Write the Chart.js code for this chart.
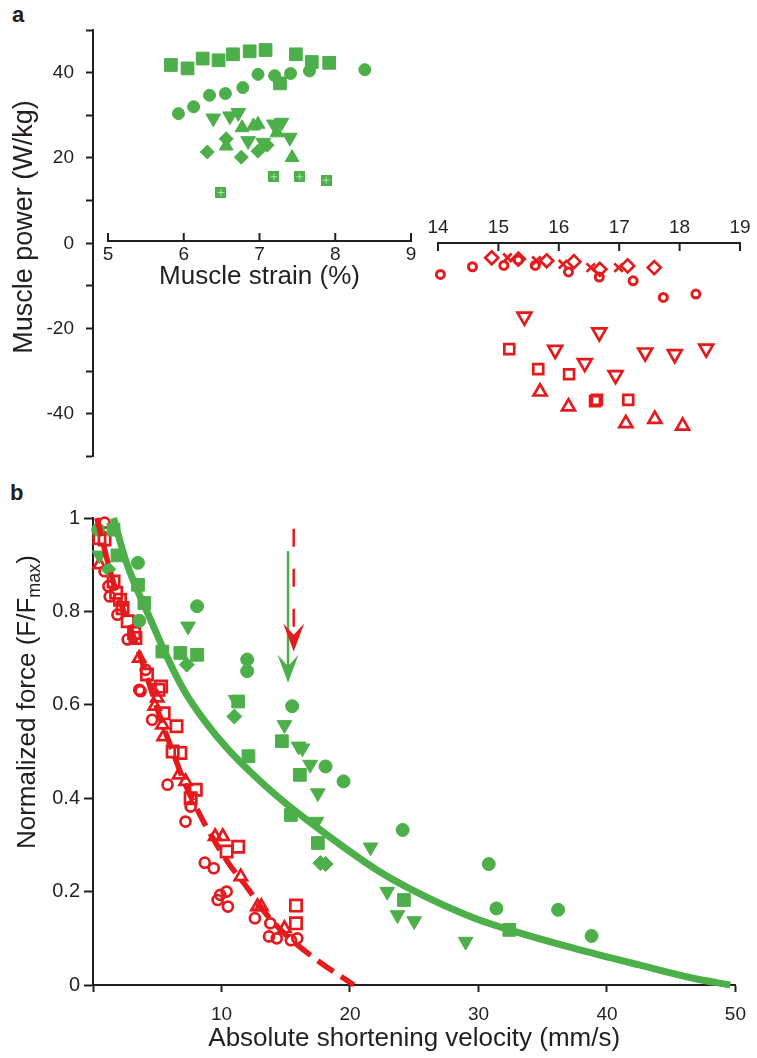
<!DOCTYPE html>
<html>
<head>
<meta charset="utf-8">
<title>Muscle power and force-velocity</title>
<script src="https://cdn.jsdelivr.net/npm/chart.js@4.4.1/dist/chart.umd.min.js"></script>
<style>
  html, body { margin: 0; padding: 0; background: #fff; }
  body { position: relative; width: 757px; height: 1058px; overflow: hidden; font-family: "Liberation Sans", Arial, sans-serif; }
  canvas { position: absolute; left: 0; }
  #powerChart { top: 0; }
  #forceChart { top: 480px; }
  .tag { position: absolute; font-weight: bold; font-size: 22px; color: #231f20; line-height: 1; }
</style>
</head>
<body>
<div class="tag" style="left:12px;top:4px">a</div>
<div class="tag" style="left:10px;top:482px">b</div>
<canvas id="powerChart" width="757" height="480"></canvas>
<canvas id="forceChart" width="757" height="578"></canvas>
<script>
const GREEN = '#4daf4a';
const RED = '#e41a1c';
const INK = '#231f20';
const FAMILY = '"Liberation Sans", Arial, sans-serif';

Chart.defaults.font.family = FAMILY;
Chart.defaults.color = INK;
Chart.defaults.animation = false;
Chart.defaults.events = [];
Chart.defaults.plugins.legend.display = false;
Chart.defaults.plugins.tooltip.enabled = false;

// ---------- panel a: power vs strain ----------
const strainTicksLow = [5, 6, 7, 8, 9];
const strainTicksHigh = [14, 15, 16, 17, 18, 19];

// green (positive power), strain 5-9 %
const gSquareStrain = [5.83, 6.05, 6.25, 6.46, 6.65, 6.87, 7.08, 7.48, 7.69, 7.92, 7.27];
const gSquarePower = [41.8, 41.0, 43.3, 42.9, 44.3, 45.0, 45.3, 44.3, 42.5, 42.3, 37.5];
const gCircleStrain = [5.93, 6.13, 6.34, 6.55, 6.78, 6.98, 7.20, 7.41, 7.66, 8.39];
const gCirclePower = [30.4, 32.0, 34.7, 35.1, 36.5, 39.6, 39.3, 39.8, 40.4, 40.7];
const gSmallSqStrain = [6.49, 7.19, 7.53, 7.88];
const gSmallSqPower = [11.9, 15.6, 15.6, 14.8];
const gDownStrain = [6.39, 6.61, 6.72, 6.85, 7.05, 7.19, 7.29, 7.40];
const gDownPower = [29.3, 29.8, 30.6, 24.0, 23.6, 27.9, 28.3, 24.8];
const gUpStrain = [6.77, 6.92, 6.98, 7.23, 6.56, 7.43];
const gUpPower = [27.1, 27.5, 27.9, 25.9, 22.8, 20.1];
const gDiamondStrain = [6.31, 6.56, 6.76, 6.98, 7.10];
const gDiamondPower = [21.4, 24.5, 20.2, 21.6, 23.0];

// red (negative power), strain 14-19 %
const rCircleStrain = [14.04, 14.57, 15.09, 15.61, 16.16, 16.67, 17.23, 17.73, 18.27, 15.33];
const rCirclePower = [-7.3, -5.5, -5.2, -5.2, -6.7, -7.9, -8.8, -12.7, -11.9, -3.9];
const rDiamondStrain = [14.89, 15.33, 15.80, 16.25, 16.68, 17.14, 17.58];
const rDiamondPower = [-3.4, -3.7, -4.1, -4.3, -6.1, -5.3, -5.7];
const rCrossStrain = [15.15, 15.63, 16.07, 16.53, 16.99];
const rCrossPower = [-3.4, -4.1, -4.9, -5.7, -5.7];
const rDownStrain = [15.43, 16.67, 15.94, 16.43, 16.94, 17.43, 17.92, 18.44];
const rDownPower = [-17.2, -20.9, -25.0, -28.1, -30.9, -25.6, -26.0, -24.7];
const rSquareStrain = [15.18, 15.66, 16.17, 16.63, 17.15, 16.60];
const rSquarePower = [-24.8, -29.5, -30.7, -36.7, -36.7, -37.0];
const rUpStrain = [15.69, 16.16, 17.11, 17.59, 18.05];
const rUpPower = [-34.8, -38.3, -42.2, -41.2, -42.8];

// ---------- panel b: force vs shortening velocity ----------
const gCircleVel = [0.4, 3.5, 3.6, 8.1, 12.0, 12.0, 15.5, 18.1, 19.5, 24.1, 30.8, 31.4, 36.2, 38.8];
const gCircleForce = [0.975, 0.904, 0.78, 0.811, 0.697, 0.672, 0.597, 0.468, 0.436, 0.332, 0.259, 0.164, 0.161, 0.105];
const gSquareVel = [1.6, 1.9, 3.5, 4.0, 5.4, 6.8, 8.1, 11.3, 12.1, 14.7, 16.1, 15.4, 17.5, 24.2, 32.4];
const gSquareForce = [0.975, 0.92, 0.857, 0.818, 0.714, 0.711, 0.707, 0.607, 0.49, 0.522, 0.45, 0.364, 0.304, 0.182, 0.118];
const gDownVel = [0.5, 7.4, 11.1, 14.9, 16.0, 16.3, 16.9, 17.5, 17.4, 21.6, 22.9, 23.7, 25.0, 29.0];
const gDownForce = [0.92, 0.768, 0.611, 0.557, 0.511, 0.507, 0.472, 0.411, 0.35, 0.295, 0.2, 0.15, 0.137, 0.093];
const gDiamondVel = [1.2, 7.3, 11.0, 17.7, 18.1];
const gDiamondForce = [0.89, 0.686, 0.575, 0.261, 0.259];

const rCircleVel = [0.9, 0.9, 1.2, 1.3, 1.9, 2.7, 4.1, 3.6, 3.7, 4.6, 5.8, 7.6, 7.2, 8.7, 9.4, 9.9, 10.4, 10.5, 9.7, 12.6, 13.8, 13.7, 14.3, 15.4, 15.9];
const rCircleForce = [0.99, 0.886, 0.854, 0.832, 0.793, 0.74, 0.675, 0.632, 0.629, 0.568, 0.429, 0.382, 0.35, 0.262, 0.25, 0.193, 0.2, 0.168, 0.182, 0.143, 0.132, 0.104, 0.1, 0.096, 0.1];
const rSquareVel = [0.5, 0.9, 1.6, 1.8, 2.1, 2.3, 2.7, 3.2, 3.3, 4.2, 5.1, 5.3, 5.5, 6.5, 6.2, 6.8, 8.0, 7.6, 10.4, 11.3, 15.8, 15.8];
const rSquareForce = [0.957, 0.954, 0.864, 0.84, 0.825, 0.807, 0.779, 0.754, 0.743, 0.665, 0.632, 0.639, 0.582, 0.554, 0.5, 0.497, 0.418, 0.4, 0.286, 0.296, 0.17, 0.132];
const rTriVel = [0.5, 3.6, 5.0, 4.8, 5.4, 5.5, 6.7, 7.2, 9.5, 10.1, 11.5, 12.8, 13.1, 14.9];
const rTriForce = [0.9, 0.7, 0.615, 0.597, 0.557, 0.532, 0.45, 0.436, 0.318, 0.318, 0.232, 0.168, 0.168, 0.121];

// fitted force-velocity curves
const greenFitVel = [1.6, 2.6, 4.6, 5.8, 7.1, 8.7, 10.5, 12.3, 14.3, 17.4, 22.0, 25.1, 29.7, 32.8, 37.4, 42.5, 46.8, 49.6];
const greenFitForce = [1.0, 0.905, 0.775, 0.70, 0.63, 0.565, 0.505, 0.455, 0.405, 0.338, 0.248, 0.20, 0.143, 0.115, 0.079, 0.043, 0.014, 0.0];
const redFitVel = [0.3, 1.5, 2.4, 3.3, 4.2, 5.2, 6.2, 7.1, 8.5, 10.5, 12.1, 13.3, 14.9, 17.4, 20.3];
const redFitForce = [1.0, 0.87, 0.80, 0.735, 0.66, 0.575, 0.50, 0.435, 0.355, 0.263, 0.205, 0.158, 0.11, 0.054, 0.0];

// arrows marking the velocity at peak power
const arrowVel = [15.18, 15.62];
const arrowTop = [0.929, 0.977];
const arrowTip = [0.647, 0.714];

function points(xs, ys) {
  return xs.map((x, i) => ({ x, y: ys[i] }));
}

function filled(xs, ys, style, radius, rotation) {
  return {
    data: points(xs, ys),
    pointStyle: style,
    pointRadius: radius,
    pointRotation: rotation || 0,
    pointBackgroundColor: GREEN,
    pointBorderColor: GREEN,
    pointBorderWidth: 1,
    showLine: false,
    clip: false,
  };
}

function open(xs, ys, style, radius, rotation) {
  return {
    data: points(xs, ys),
    pointStyle: style,
    pointRadius: radius,
    pointRotation: rotation || 0,
    pointBackgroundColor: 'rgba(0,0,0,0)',
    pointBorderColor: RED,
    pointBorderWidth: 2.7,
    showLine: false,
    clip: false,
  };
}

// small green square with a faint cross, used for the low-power group
const smallSquare = document.createElement('canvas');
smallSquare.width = 11;
smallSquare.height = 11;
(function () {
  const c = smallSquare.getContext('2d');
  c.fillStyle = GREEN;
  c.fillRect(0, 0, 11, 11);
  c.fillStyle = 'rgba(255,255,255,0.55)';
  c.fillRect(5, 2, 1, 7);
  c.fillRect(2, 5, 7, 1);
})();

function axisTicks(scale, yPix, ticks, up) {
  return { scale, yPix, ticks, up };
}

function drawStrainAxis(ctx, a) {
  const x0 = a.scale.getPixelForValue(a.ticks[0]);
  const x1 = a.scale.getPixelForValue(a.ticks[a.ticks.length - 1]);
  ctx.save();
  ctx.strokeStyle = INK;
  ctx.lineWidth = 2;
  ctx.beginPath();
  ctx.moveTo(x0 - 1, a.yPix);
  ctx.lineTo(x1 + 1, a.yPix);
  a.ticks.forEach(t => {
    const x = a.scale.getPixelForValue(t);
    ctx.moveTo(x, a.yPix);
    ctx.lineTo(x, a.yPix + (a.up ? -8 : 8));
  });
  ctx.stroke();
  ctx.fillStyle = INK;
  ctx.font = '19px ' + FAMILY;
  ctx.textAlign = 'center';
  ctx.textBaseline = 'middle';
  a.ticks.forEach(t => {
    ctx.fillText(String(t), a.scale.getPixelForValue(t), a.up ? a.yPix + 14 : a.yPix - 15);
  });
  ctx.restore();
}

// rotated axis title, parts may carry a subscript offset
function drawVerticalTitle(ctx, parts, cx, cy) {
  ctx.save();
  ctx.translate(cx, cy);
  ctx.rotate(-Math.PI / 2);
  ctx.fillStyle = INK;
  ctx.textBaseline = 'middle';
  ctx.textAlign = 'left';
  let total = 0;
  parts.forEach(p => { ctx.font = p.font; p.w = ctx.measureText(p.text).width; total += p.w; });
  let x = -total / 2;
  parts.forEach(p => {
    ctx.font = p.font;
    ctx.fillText(p.text, x, p.dy || 0);
    x += p.w;
  });
  ctx.restore();
}

const strainAxes = {
  id: 'strainAxes',
  afterDraw(chart) {
    const ctx = chart.ctx;
    const y = chart.scales.y;
    const low = axisTicks(chart.scales.xs, Math.round(y.getPixelForValue(0.5)), strainTicksLow, true);
    const high = axisTicks(chart.scales.xr, Math.round(y.getPixelForValue(0.1)), strainTicksHigh, false);
    drawStrainAxis(ctx, low);
    drawStrainAxis(ctx, high);

    ctx.save();
    ctx.fillStyle = INK;
    ctx.font = '26px ' + FAMILY;
    ctx.textAlign = 'center';
    ctx.textBaseline = 'middle';
    const mid = (chart.scales.xs.getPixelForValue(5) + chart.scales.xs.getPixelForValue(9)) / 2;
    ctx.fillText('Muscle strain (%)', mid, low.yPix + 36);
    ctx.restore();

    drawVerticalTitle(ctx, [{ text: 'Muscle power (W/kg)', font: '27px ' + FAMILY }], 25, 227);
  },
};

new Chart(document.getElementById('powerChart'), {
  type: 'scatter',
  data: {
    datasets: [
      Object.assign(filled(gSquareStrain, gSquarePower, 'rect', 9), { xAxisID: 'xs' }),
      Object.assign(filled(gCircleStrain, gCirclePower, 'circle', 6), { xAxisID: 'xs' }),
      Object.assign(filled(gSmallSqStrain, gSmallSqPower, smallSquare, 5), { xAxisID: 'xs' }),
      Object.assign(filled(gDownStrain, gDownPower, 'triangle', 8.5, 180), { xAxisID: 'xs' }),
      Object.assign(filled(gUpStrain, gUpPower, 'triangle', 8), { xAxisID: 'xs' }),
      Object.assign(filled(gDiamondStrain, gDiamondPower, 'rectRot', 7), { xAxisID: 'xs' }),
      Object.assign(open(rCircleStrain, rCirclePower, 'circle', 4), { xAxisID: 'xr', pointBorderWidth: 3 }),
      Object.assign(open(rDiamondStrain, rDiamondPower, 'rectRot', 6.5), { xAxisID: 'xr' }),
      Object.assign(open(rCrossStrain, rCrossPower, 'crossRot', 6), { xAxisID: 'xr' }),
      Object.assign(open(rDownStrain, rDownPower, 'triangle', 8, 180), { xAxisID: 'xr' }),
      Object.assign(open(rSquareStrain, rSquarePower, 'rect', 7), { xAxisID: 'xr' }),
      Object.assign(open(rUpStrain, rUpPower, 'triangle', 7.5), { xAxisID: 'xr' }),
    ],
  },
  options: {
    responsive: false,
    devicePixelRatio: 1,
    layout: { padding: { left: 0, top: 30, right: 17, bottom: 22 } },
    scales: {
      xs: { type: 'linear', display: false, min: 4.802, max: 13.343 },
      xr: { type: 'linear', display: false, min: 8.288, max: 19 },
      y: {
        type: 'linear',
        min: -50,
        max: 50,
        afterFit: s => { s.width = 93; },
        border: { display: true, color: INK, width: 2 },
        grid: { drawOnChartArea: false, color: INK, tickColor: INK, tickWidth: 2, tickLength: 7 },
        ticks: {
          stepSize: 10,
          padding: 12,
          color: INK,
          font: { size: 19 },
          callback: v => (v % 20 === 0 ? String(v) : ''),
        },
      },
    },
  },
  plugins: [strainAxes],
});

// ---------- panel b chart ----------
function drawArrow(ctx, x, yTop, yTip, color, dash) {
  const head = 28, half = 10.5;
  ctx.save();
  ctx.strokeStyle = color;
  ctx.fillStyle = color;
  ctx.lineWidth = 2.5;
  ctx.setLineDash(dash);
  ctx.beginPath();
  ctx.moveTo(x, yTop);
  ctx.lineTo(x, yTip - 15);
  ctx.stroke();
  ctx.setLineDash([]);
  ctx.beginPath();
  ctx.moveTo(x, yTip);
  ctx.lineTo(x - half, yTip - head);
  ctx.lineTo(x, yTip - head * 0.6);
  ctx.lineTo(x + half, yTip - head);
  ctx.closePath();
  ctx.fill();
  ctx.restore();
}

const forceDecor = {
  id: 'forceDecor',
  afterDatasetsDraw(chart) {
    const ctx = chart.ctx;
    const xs = chart.scales.x, ys = chart.scales.y;
    drawArrow(ctx, xs.getPixelForValue(arrowVel[0]), ys.getPixelForValue(arrowTop[0]), ys.getPixelForValue(arrowTip[0]), GREEN, []);
    drawArrow(ctx, xs.getPixelForValue(arrowVel[1]), ys.getPixelForValue(arrowTop[1]), ys.getPixelForValue(arrowTip[1]), RED, [18, 22]);
  },
  afterDraw(chart) {
    const f = '26px ' + FAMILY;
    drawVerticalTitle(chart.ctx, [
      { text: 'Normalized force (F/F', font: f },
      { text: 'max', font: '18px ' + FAMILY, dy: 7 },
      { text: ')', font: f },
    ], 28, 222);
  },
};

new Chart(document.getElementById('forceChart'), {
  type: 'scatter',
  data: {
    datasets: [
      {
        data: points(greenFitVel, greenFitForce),
        showLine: true,
        borderColor: GREEN,
        borderWidth: 7,
        pointRadius: 0,
        cubicInterpolationMode: 'monotone',
        clip: false,
      },
      {
        data: points(redFitVel, redFitForce),
        showLine: true,
        borderColor: RED,
        borderWidth: 5.5,
        borderDash: [19, 9],
        pointRadius: 0,
        cubicInterpolationMode: 'monotone',
        clip: false,
      },
      filled(gCircleVel, gCircleForce, 'circle', 6.5),
      filled(gSquareVel, gSquareForce, 'rect', 9),
      filled(gDownVel, gDownForce, 'triangle', 8.5, 180),
      filled(gDiamondVel, gDiamondForce, 'rectRot', 7.5),
      open(rCircleVel, rCircleForce, 'circle', 5),
      open(rSquareVel, rSquareForce, 'rect', 8),
      open(rTriVel, rTriForce, 'triangle', 7),
    ],
  },
  options: {
    responsive: false,
    devicePixelRatio: 1,
    layout: { padding: { left: 0, top: 38, right: 12, bottom: 0 } },
    scales: {
      x: {
        type: 'linear',
        min: 0,
        max: 50,
        afterFit: s => { s.height = 73; },
        border: { display: true, color: INK, width: 2 },
        grid: { drawOnChartArea: false, color: INK, tickColor: INK, tickWidth: 2, tickLength: 7 },
        ticks: {
          stepSize: 10,
          padding: 11,
          color: INK,
          font: { size: 19 },
          maxRotation: 0,
          callback: v => (v === 0 ? '' : String(v)),
        },
        title: {
          display: true,
          text: 'Absolute shortening velocity (mm/s)',
          color: INK,
          font: { size: 26 },
          padding: { top: 0, bottom: 4 },
        },
      },
      y: {
        type: 'linear',
        min: 0,
        max: 1,
        afterFit: s => { s.width = 93; },
        border: { display: true, color: INK, width: 2 },
        grid: { drawOnChartArea: false, color: INK, tickColor: INK, tickWidth: 2, tickLength: 9 },
        ticks: {
          stepSize: 0.2,
          padding: 4,
          color: INK,
          font: { size: 20 },
          callback: v => String(+v.toFixed(1)),
        },
      },
    },
  },
  plugins: [forceDecor],
});
</script>
</body>
</html>
